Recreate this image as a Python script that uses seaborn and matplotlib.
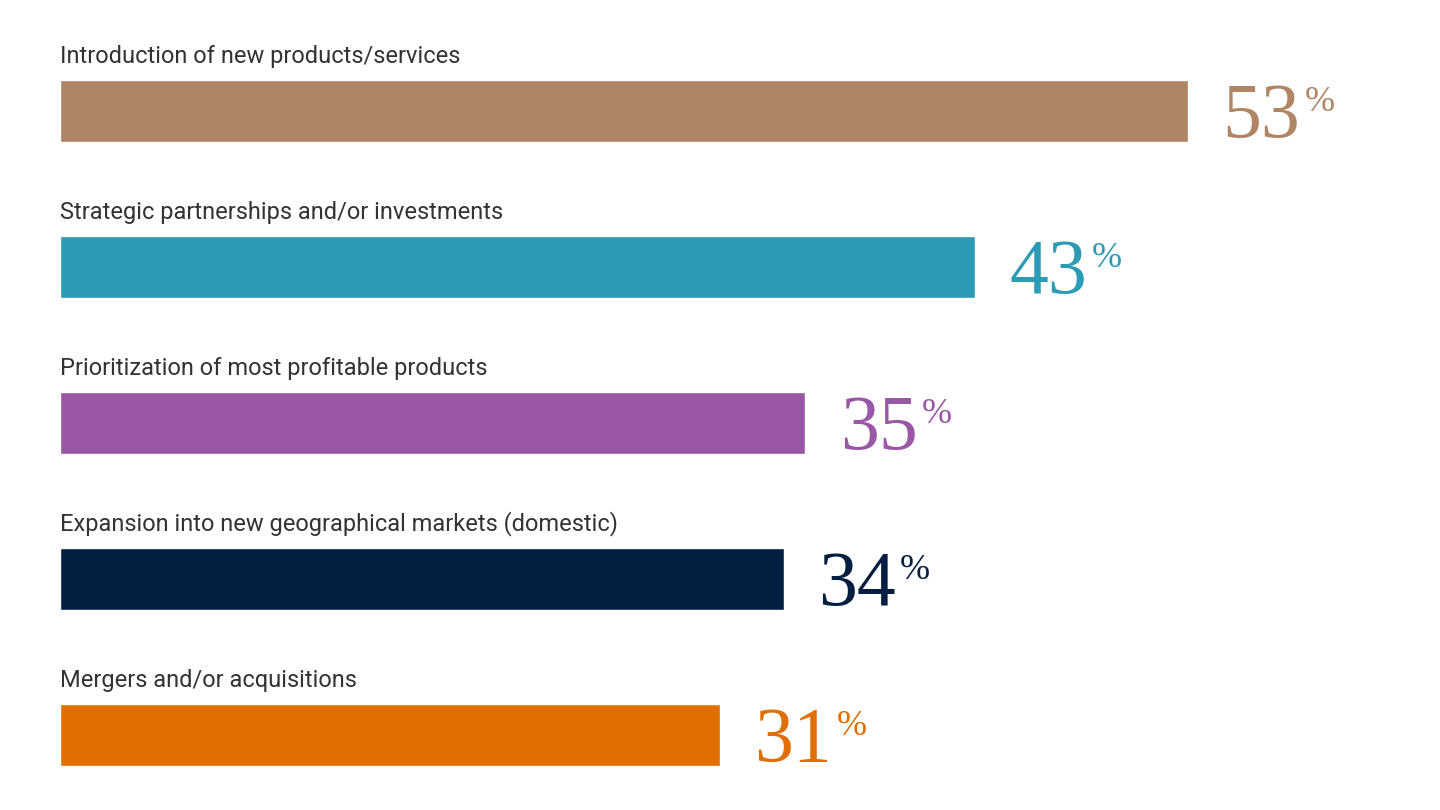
import matplotlib
matplotlib.use('Agg')
import matplotlib.pyplot as plt
import seaborn as sns
import pandas as pd

## chart data
categories = ['Introduction of new products/services',
              'Strategic partnerships and/or investments',
              'Prioritization of most profitable products',
              'Expansion into new geographical markets (domestic)',
              'Mergers and/or acquisitions']
values = [53, 43, 35, 34, 31]
colors = ['#B08563', '#2C9BB5', '#9A57A5', '#041E42', '#E06E00']

df = pd.DataFrame({'category': categories, 'value': values})

sns.set_style('white')

fig = plt.figure(figsize=(14.4, 8.1), dpi=100)
ax = fig.add_axes([60 / 1440, 0, 1277 / 1440, 1])

sns.barplot(data=df, y='category', x='value', hue='category', palette=colors,
            orient='h', width=0.398, legend=False, saturation=1, ax=ax)

ax.set_xlim(0, 60)
ax.set_ylim(4.4808, -0.7115)
ax.set_axis_off()

# labels above each bar
for i, cat in enumerate(categories):
    ax.text(0, i - 0.308, cat, fontsize=17, color='#333333', va='baseline',
            ha='left', family='Roboto')

# big serif numbers with a small % after them
num_texts = []
for i, v in enumerate(values):
    t = ax.annotate(str(v), xy=(v, i + 0.167), xytext=(25, 0), textcoords='offset points',
                    fontsize=56, color=colors[i], va='baseline', ha='left',
                    family='Liberation Serif')
    num_texts.append(t)

fig.canvas.draw()
renderer = fig.canvas.get_renderer()
inv = ax.transData.inverted()
for i, t in enumerate(num_texts):
    bb = t.get_window_extent(renderer)
    x1, _ = inv.transform((bb.x1 + 4, 0))
    ax.annotate('%', xy=(x1, i + 0.167), xytext=(0, 19), textcoords='offset points',
                fontsize=26, color=colors[i], va='baseline', ha='left',
                family='Liberation Serif')

fig.savefig('out.png', dpi=100)
